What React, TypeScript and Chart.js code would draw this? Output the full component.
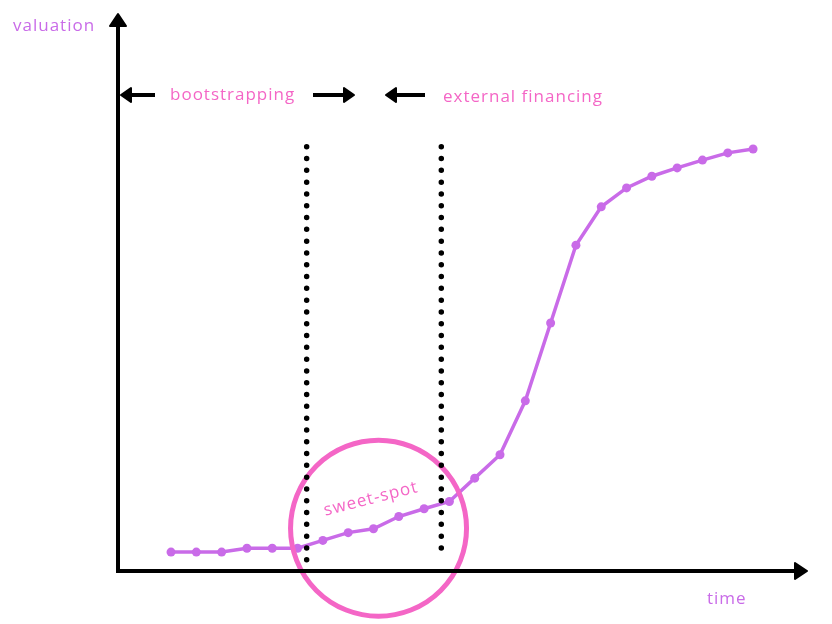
import React, { useEffect, useRef } from "react";
import { Chart, registerables } from "chart.js";

Chart.register(...registerables);

// time steps (x) and valuation (y)
const timeSteps = [1, 2, 3, 4, 5, 6, 7, 8, 9, 10, 11, 12, 13, 14, 15, 16, 17, 18, 19, 20, 21, 22, 23, 24];
const valuation = [3.4, 3.4, 3.4, 4.1, 4.1, 4.1, 5.5, 6.9, 7.6, 9.8, 11.2, 12.5, 16.7, 20.9, 30.6, 44.6, 58.6, 65.5, 68.9, 71.0, 72.5, 73.9, 75.2, 75.9];

// phase boundaries (in time units) and their vertical extents (valuation units)
const boundaryTimes = [6.36, 11.68];
const boundaryTop = [76.3, 76.3];
const boundaryBottom = [1.9, 4.0];

// sweet-spot circle centre (time, valuation)
const sweetSpotCenter = [9.2, 7.7];

const labels = {
  yTitle: "valuation",
  xTitle: "time",
  left: "bootstrapping",
  right: "external financing",
  spot: "sweet-spot",
};

const PURPLE = "#c96be8";
const PINK = "#f466c6";
const FONT = "'Open Sans', sans-serif";

export default function App() {
  const ref = useRef<HTMLCanvasElement | null>(null);

  useEffect(() => {
    const canvas = ref.current;
    if (!canvas) return;

    const overlay = {
      id: "overlay",
      afterDatasetsDraw(chart: any) {
        const ctx = chart.ctx as CanvasRenderingContext2D;
        const { left, right, top, bottom } = chart.chartArea;
        const xs = chart.scales.x;
        const ys = chart.scales.y;
        ctx.save();

        // sweet-spot circle
        const cx = xs.getPixelForValue(sweetSpotCenter[0]);
        const cy = ys.getPixelForValue(sweetSpotCenter[1]);
        ctx.beginPath();
        ctx.arc(cx, cy, 88, 0, Math.PI * 2);
        ctx.strokeStyle = PINK;
        ctx.lineWidth = 5;
        ctx.stroke();

        // axes
        ctx.strokeStyle = "#000";
        ctx.fillStyle = "#000";
        ctx.lineWidth = 4;
        ctx.lineCap = "butt";
        ctx.beginPath();
        ctx.moveTo(left, bottom + 2);
        ctx.lineTo(left, top + 12);
        ctx.moveTo(left - 2, bottom);
        ctx.lineTo(right - 12, bottom);
        ctx.stroke();
        // arrow heads
        const head = (tx: number, ty: number, dx: number, dy: number, len: number, half: number) => {
          const px = -dy, py = dx;
          ctx.beginPath();
          ctx.moveTo(tx, ty);
          ctx.lineTo(tx - dx * len + px * half, ty - dy * len + py * half);
          ctx.lineTo(tx - dx * len - px * half, ty - dy * len - py * half);
          ctx.closePath();
          ctx.lineJoin = "round";
          ctx.lineWidth = 2;
          ctx.fill();
          ctx.stroke();
          ctx.lineWidth = 4;
        };
        head(left, top - 1, 0, -1, 12, 8);
        head(right - 1, bottom, 1, 0, 12, 8);

        // phase arrows
        const ay = 95;
        const drawArrow = (x0: number, x1: number) => {
          const dir = Math.sign(x1 - x0);
          ctx.beginPath();
          ctx.moveTo(x0, ay);
          ctx.lineTo(x1 - dir * 8, ay);
          ctx.lineWidth = 4;
          ctx.stroke();
          head(x1, ay, dir, 0, 10, 7);
        };
        drawArrow(155, left + 3);
        drawArrow(313, 354);
        drawArrow(425, 386);

        // dotted boundaries
        ctx.setLineDash([0, 11.8]);
        ctx.lineCap = "round";
        ctx.lineWidth = 5.5;
        boundaryTimes.forEach((t, i) => {
          const x = xs.getPixelForValue(t);
          ctx.beginPath();
          ctx.moveTo(x, ys.getPixelForValue(boundaryTop[i]));
          ctx.lineTo(x, ys.getPixelForValue(boundaryBottom[i]) + 1);
          ctx.stroke();
        });
        ctx.setLineDash([]);

        // texts
        (ctx as any).letterSpacing = "1px";
        ctx.font = `17px ${FONT}`;
        ctx.textBaseline = "middle";
        ctx.textAlign = "left";
        ctx.fillStyle = PURPLE;
        ctx.fillText(labels.yTitle, 13, 26);
        ctx.fillText(labels.xTitle, 707, 599);
        ctx.fillStyle = PINK;
        ctx.fillText(labels.left, 170, 95);
        ctx.fillText(labels.right, 443, 97);

        ctx.save();
        ctx.translate(371, 499);
        ctx.rotate(-0.25);
        ctx.textAlign = "center";
        ctx.font = `17px ${FONT}`;
        ctx.fillText(labels.spot, 0, 0);
        ctx.restore();

        ctx.restore();
      },
    };

    const chart = new Chart(canvas, {
      type: "line",
      data: {
        datasets: [
          {
            data: timeSteps.map((t, i) => ({ x: t, y: valuation[i] })),
            borderColor: PURPLE,
            backgroundColor: PURPLE,
            borderWidth: 3.5,
            pointRadius: 4.5,
            pointBackgroundColor: PURPLE,
            pointBorderWidth: 0,
            tension: 0,
            clip: false as any,
          },
        ],
      },
      options: {
        responsive: false,
        maintainAspectRatio: false,
        animation: false,
        layout: { padding: { left: 118, top: 15, right: 24, bottom: 53 } },
        plugins: { legend: { display: false }, tooltip: { enabled: false } },
        scales: {
          x: { type: "linear", display: false, min: -1.095, max: 26.17 },
          y: { type: "linear", display: false, min: 0, max: 100 },
        },
      },
      plugins: [overlay],
    });
    return () => chart.destroy();
  }, []);

  return (
    <div style={{ position: "absolute", left: 0, top: 0, width: 832, height: 624, background: "#fff" }}>
      <canvas ref={ref} width={832} height={624} style={{ width: 832, height: 624 }} />
    </div>
  );
}
